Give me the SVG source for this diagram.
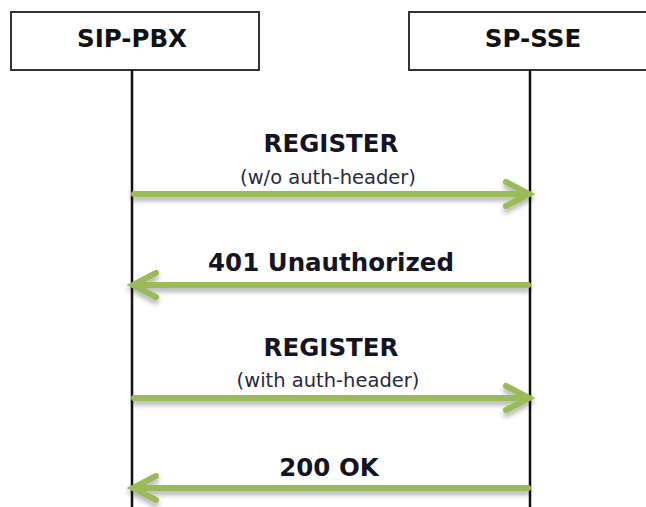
<svg xmlns="http://www.w3.org/2000/svg" width="646" height="507" viewBox="0 0 646 507">
  <style>
    .box { fill: #ffffff; stroke: #333333; stroke-width: 2; }
    .life { stroke: #111111; stroke-width: 2.5; }
    .title { font-family: "DejaVu Sans", Verdana, sans-serif; font-weight: bold; font-size: 24.5px; fill: #111111; text-anchor: middle; }
    .msg { font-family: "DejaVu Sans", Verdana, sans-serif; font-weight: bold; font-size: 24.5px; fill: #141424; text-anchor: middle; }
    .sub { font-family: "DejaVu Sans", Verdana, sans-serif; font-size: 19.5px; fill: #2a2a3a; text-anchor: middle; }
    .arrow { fill: none; stroke: #9bbb59; stroke-width: 6; stroke-linecap: round; stroke-linejoin: miter; }
  </style>
  <defs>
    <filter id="shadow" x="-5%" y="-50%" width="110%" height="250%">
      <feDropShadow dx="0" dy="4" stdDeviation="2.5" flood-color="#000000" flood-opacity="0.3"/>
    </filter>
  </defs>
  <rect width="646" height="507" fill="#ffffff"/>

  <!-- participants -->
  <g id="sip-pbx">
    <rect class="box" x="11" y="12" width="248" height="58"/>
    <line class="life" x1="132" y1="70" x2="132" y2="507"/>
    <text class="title" x="132" y="47">SIP-PBX</text>
  </g>
  <g id="sp-sse">
    <rect class="box" x="409" y="12" width="250" height="58"/>
    <line class="life" x1="530" y1="70" x2="530" y2="507"/>
    <text class="title" x="533" y="47">SP-SSE</text>
  </g>

  <!-- messages -->
  <g id="connectors" filter="url(#shadow)">
    <g id="msg-register-1">
      <path class="arrow" d="M134 194 H528 M506 182 L529 194 L506 206"/>
    </g>
    <g id="msg-401">
      <path class="arrow" d="M528 285 H134 M156 273 L133 285 L156 297"/>
    </g>
    <g id="msg-register-2">
      <path class="arrow" d="M134 398 H528 M506 386 L529 398 L506 410"/>
    </g>
    <g id="msg-200">
      <path class="arrow" d="M528 488 H134 M156 476 L133 488 L156 500"/>
    </g>
  </g>

  <!-- message labels -->
  <g id="labels">
    <text class="msg" x="331" y="152">REGISTER</text>
    <text class="sub" x="328" y="184">(w/o auth-header)</text>
    <text class="msg" x="331" y="271">401 Unauthorized</text>
    <text class="msg" x="331" y="356">REGISTER</text>
    <text class="sub" x="328" y="387">(with auth-header)</text>
    <text class="msg" x="329" y="476">200 OK</text>
  </g>
</svg>
